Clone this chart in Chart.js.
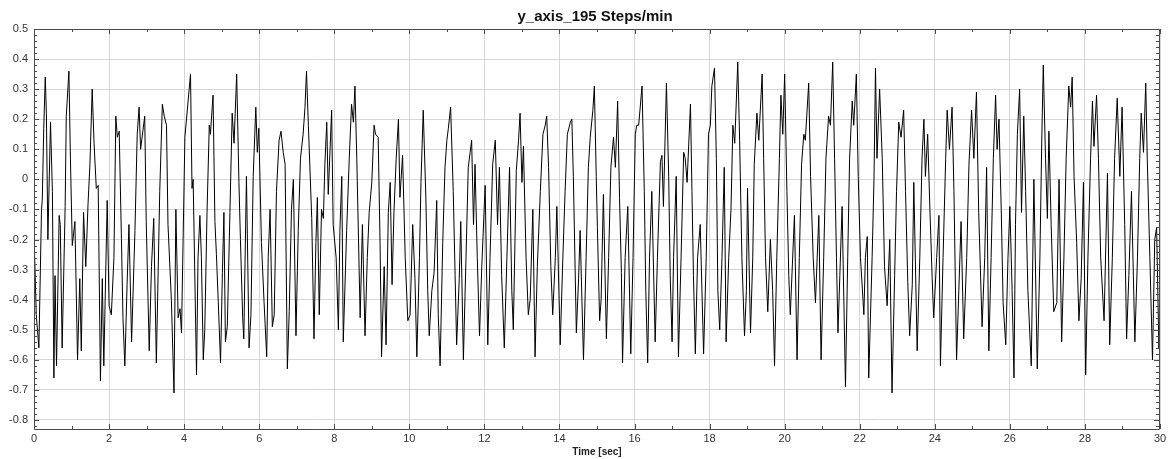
<!DOCTYPE html>
<html>
<head>
<meta charset="utf-8">
<title>y_axis_195 Steps/min</title>
<script src="https://cdn.jsdelivr.net/npm/chart.js@4.4.1/dist/chart.umd.min.js"></script>
<style>
    html, body { margin: 0; padding: 0; background: #fff; }
    #chart { display: block; }
</style>
</head>
<body>
<canvas id="chart" width="1175" height="459"></canvas>
<script>
const chartTitle = "y_axis_195 Steps/min";
const xAxisTitle = "Time [sec]";
const xTicks = [0, 2, 4, 6, 8, 10, 12, 14, 16, 18, 20, 22, 24, 26, 28, 30];
const yTicks = [-0.8, -0.7, -0.6, -0.5, -0.4, -0.3, -0.2, -0.1, 0, 0.1, 0.2, 0.3, 0.4, 0.5];

// one line per ~second
const timeSec = [
    0.00,0.06,0.13,0.20,0.22,0.26,0.30,0.33,0.37,0.44,0.49,0.53,0.56,0.60,0.67,0.70,0.75,0.83,0.86,0.93,0.97,
    1.02,1.09,1.16,1.22,1.26,1.32,1.38,1.44,1.49,1.55,1.60,1.66,1.71,1.77,1.82,1.86,1.95,
    2.00,2.06,2.13,2.18,2.22,2.27,2.33,2.37,2.42,2.48,2.53,2.60,2.69,2.75,2.80,2.84,2.95,2.99,
    3.07,3.13,3.19,3.26,3.35,3.42,3.47,3.53,3.57,3.66,3.73,3.78,3.84,3.89,3.93,
    4.02,4.17,4.21,4.24,4.33,4.37,4.42,4.46,4.51,4.55,4.61,4.67,4.70,4.77,4.82,4.86,4.91,4.97,
    5.02,5.06,5.10,5.15,5.22,5.28,5.33,5.40,5.46,5.50,5.56,5.59,5.66,5.73,5.78,5.84,5.91,5.95,5.99,
    6.06,6.13,6.20,6.24,6.29,6.35,6.40,6.46,6.53,6.58,6.64,6.69,6.75,6.80,6.86,6.91,6.98,
    7.04,7.10,7.17,7.22,7.26,7.31,7.40,7.46,7.51,7.55,7.60,7.66,7.71,7.75,7.80,7.84,7.93,7.97,
    8.05,8.11,8.15,8.20,8.24,8.33,8.40,8.46,8.51,8.55,8.60,8.69,8.75,8.82,8.88,8.93,
    9.00,9.06,9.10,9.17,9.22,9.26,9.33,9.38,9.44,9.49,9.54,9.59,9.65,9.71,9.75,9.82,9.89,9.96,
    10.02,10.09,10.15,10.20,10.27,10.31,10.37,10.44,10.49,10.53,10.60,10.66,10.73,10.77,10.82,10.89,10.95,
    11.00,11.04,11.10,11.17,11.22,11.26,11.33,11.37,11.44,11.51,11.57,11.62,11.66,11.71,11.75,11.81,11.87,11.93,
    12.02,12.09,12.15,12.22,12.29,12.35,12.40,12.46,12.53,12.60,12.67,12.73,12.77,12.85,12.91,12.95,
    13.00,13.04,13.11,13.17,13.22,13.29,13.35,13.41,13.49,13.56,13.62,13.66,13.71,13.77,13.82,13.89,13.93,
    14.02,14.09,14.15,14.21,14.29,14.33,14.37,14.45,14.51,14.55,14.64,14.71,14.77,14.82,14.89,14.93,14.98,
    15.01,15.07,15.11,15.17,15.25,15.31,15.37,15.44,15.49,15.55,15.60,15.65,15.68,15.75,15.82,15.90,15.96,
    16.02,16.06,16.11,16.20,16.26,16.30,16.35,16.40,16.46,16.55,16.61,16.69,16.73,16.77,16.85,16.91,16.95,
    17.00,17.04,17.11,17.17,17.24,17.31,17.35,17.40,17.49,17.53,17.57,17.62,17.68,17.75,17.84,17.91,17.97,
    18.02,18.06,18.13,18.18,18.22,18.27,18.33,18.39,18.44,18.51,18.57,18.62,18.67,18.75,18.80,18.86,18.93,18.98,
    19.01,19.09,19.15,19.19,19.26,19.31,19.40,19.44,19.49,19.55,19.62,19.68,19.73,19.79,19.86,19.90,19.95,
    20.00,20.06,20.11,20.15,20.26,20.33,20.39,20.45,20.51,20.55,20.64,20.69,20.76,20.82,20.91,20.97,
    21.04,21.10,21.17,21.22,21.28,21.33,21.38,21.42,21.47,21.53,21.62,21.68,21.73,21.80,21.84,21.91,21.96,
    22.02,22.11,22.15,22.20,22.24,22.33,22.38,22.42,22.46,22.53,22.60,22.66,22.73,22.80,22.86,22.93,22.98,
    23.04,23.10,23.17,23.22,23.28,23.33,23.40,23.44,23.53,23.60,23.66,23.71,23.75,23.81,23.87,23.93,23.97,
    24.05,24.11,24.15,24.22,24.29,24.33,24.39,24.46,24.51,24.58,24.64,24.70,24.77,24.85,24.91,24.98,
    25.04,25.11,25.17,25.26,25.33,25.38,25.44,25.50,25.56,25.62,25.66,25.71,25.77,25.82,25.89,25.95,
    26.00,26.06,26.11,26.15,26.20,26.26,26.31,26.37,26.42,26.48,26.57,26.64,26.73,26.80,26.85,26.89,26.95,
    27.00,27.04,27.10,27.17,27.25,27.31,27.38,27.44,27.50,27.57,27.62,27.66,27.71,27.78,27.84,27.90,27.96,
    28.02,28.08,28.15,28.20,28.24,28.31,28.36,28.42,28.51,28.60,28.66,28.73,28.79,28.86,28.93,28.99,
    29.06,29.11,29.17,29.24,29.33,29.40,29.46,29.50,29.56,29.62,29.66,29.73,29.80,29.86,29.91,29.97,30.00
];
const yAxis = [
    -0.18,-0.45,-0.56,-0.10,-0.07,0.17,0.34,0.22,-0.20,0.19,-0.04,-0.66,-0.32,-0.62,-0.12,-0.15,-0.56,-0.09,0.21,0.36,0.07,
    -0.22,-0.14,-0.60,-0.33,-0.57,-0.11,-0.29,-0.08,0.05,0.30,0.12,-0.03,-0.02,-0.67,-0.33,-0.62,-0.07,
    -0.42,-0.45,-0.26,0.21,0.14,0.16,-0.20,-0.46,-0.62,-0.35,-0.15,-0.54,-0.17,0.15,0.24,0.10,0.21,-0.14,
    -0.57,-0.29,-0.13,-0.61,-0.04,0.25,0.21,0.18,-0.15,-0.40,-0.71,-0.10,-0.46,-0.43,-0.51,
    0.14,0.35,-0.03,0.00,-0.65,-0.26,-0.12,-0.26,-0.60,-0.50,-0.11,0.18,0.15,0.28,-0.14,-0.25,-0.41,-0.61,
    -0.31,-0.11,-0.54,-0.49,-0.11,0.22,0.12,0.35,-0.01,-0.20,-0.46,-0.53,0.01,-0.56,-0.45,0.01,0.24,0.09,0.17,
    -0.21,-0.41,-0.59,-0.26,-0.10,-0.49,-0.45,-0.04,0.13,0.16,0.09,0.05,-0.63,-0.44,-0.10,0.00,-0.52,
    -0.17,0.07,0.15,0.24,0.36,0.18,-0.13,-0.53,-0.21,-0.06,-0.45,-0.10,-0.13,0.05,0.19,-0.05,0.23,-0.15,
    -0.26,-0.50,-0.17,0.01,-0.54,-0.17,0.07,0.25,0.19,0.31,0.07,-0.46,-0.15,-0.52,-0.26,-0.11,
    -0.01,0.18,0.15,0.14,-0.21,-0.59,-0.29,-0.55,-0.11,-0.01,-0.35,-0.11,0.07,0.20,-0.06,0.08,-0.26,-0.47,
    -0.45,-0.15,-0.33,-0.59,-0.26,-0.01,0.23,-0.06,-0.37,-0.52,-0.37,-0.31,-0.07,-0.45,-0.62,-0.21,0.04,
    0.13,0.17,0.24,-0.04,-0.32,-0.55,-0.33,-0.14,-0.60,-0.26,0.04,0.09,0.13,-0.15,0.05,-0.26,-0.52,-0.29,
    -0.02,-0.55,-0.26,0.05,0.13,-0.15,0.04,-0.32,-0.56,-0.26,0.04,-0.37,-0.50,0.03,0.13,0.22,
    -0.01,0.11,-0.26,-0.45,-0.40,-0.10,-0.59,-0.29,-0.04,0.15,0.18,0.21,0.04,-0.29,-0.45,-0.26,-0.09,
    -0.55,-0.26,-0.04,0.15,0.19,0.20,0.01,-0.51,-0.33,-0.17,-0.60,-0.26,0.04,0.14,0.23,0.31,0.01,
    -0.16,-0.47,-0.40,-0.05,-0.53,-0.26,0.04,0.14,0.04,0.26,-0.06,-0.31,-0.61,-0.26,-0.09,-0.58,-0.26,
    0.15,0.18,0.18,0.31,-0.04,-0.37,-0.61,-0.26,-0.04,-0.54,-0.26,0.06,0.08,-0.09,0.32,0.01,-0.32,
    -0.54,-0.26,0.01,-0.59,-0.26,0.09,0.07,-0.01,0.25,-0.04,-0.32,-0.58,-0.26,-0.15,-0.58,-0.26,0.15,
    0.18,0.31,0.37,0.07,-0.37,-0.50,-0.26,0.04,-0.54,-0.26,-0.10,0.18,0.12,0.39,0.13,-0.26,-0.52,-0.37,
    -0.03,-0.51,-0.26,0.05,0.22,0.13,0.35,0.07,-0.26,-0.44,-0.20,-0.37,-0.62,-0.26,0.07,0.28,0.15,
    0.35,-0.04,-0.32,-0.45,-0.12,-0.60,-0.26,0.05,0.15,0.13,0.32,0.01,-0.26,-0.41,-0.12,-0.60,
    -0.26,0.07,0.21,0.18,0.39,0.07,-0.26,-0.51,-0.32,-0.09,-0.69,-0.26,0.07,0.26,0.18,0.35,0.01,
    -0.26,-0.45,-0.26,-0.19,-0.66,-0.26,0.00,0.37,0.07,0.30,0.07,-0.29,-0.42,-0.20,-0.71,-0.32,-0.04,
    0.19,0.14,0.23,-0.04,-0.34,-0.52,-0.35,-0.01,-0.57,-0.26,0.07,0.20,0.01,0.15,-0.10,-0.33,-0.46,
    -0.26,-0.12,-0.62,-0.26,0.07,0.23,0.10,0.24,-0.04,-0.60,-0.37,-0.14,-0.53,-0.26,0.05,0.23,
    0.07,0.29,-0.11,-0.49,-0.26,0.04,-0.57,-0.26,0.07,0.28,0.10,0.20,-0.10,-0.41,-0.55,-0.26,
    -0.09,-0.37,-0.66,-0.15,0.15,0.30,-0.11,0.21,-0.04,-0.37,-0.62,0.00,-0.63,-0.26,0.13,0.38,0.07,
    -0.13,0.16,-0.15,-0.44,-0.41,0.00,-0.54,-0.26,0.07,0.31,0.24,0.34,0.01,-0.21,-0.47,-0.33,-0.01,
    -0.65,-0.26,0.07,0.26,0.11,0.28,0.07,-0.26,-0.47,0.02,-0.55,-0.26,0.07,0.27,0.01,0.24,
    -0.15,-0.53,-0.32,-0.04,-0.54,-0.26,0.07,0.22,0.09,0.32,0.07,-0.26,-0.60,-0.20,-0.16,-0.56,-0.50
];

if (timeSec.length !== yAxis.length) {
    console.error("length mismatch", timeSec.length, yAxis.length);
}

const FONT = "'Liberation Sans', Arial, sans-serif";

// frame, inner tick marks and title (the plot looks like an old Qwt widget)
const framePlugin = {
    id: "frame",
    afterDraw(chart) {
        const ctx = chart.ctx;
        const area = chart.chartArea;
        const xs = chart.scales.x;
        const ys = chart.scales.y;
        ctx.save();
        ctx.strokeStyle = "#4a4a4a";
        ctx.lineWidth = 1;
        ctx.beginPath();
        ctx.rect(Math.round(area.left) + 0.5, Math.round(area.top) + 0.5,
            Math.round(area.right - area.left) - 1, Math.round(area.bottom - area.top));
        ctx.stroke();

        ctx.beginPath();
        for (let s = 0; s <= 30; s++) {
            const px = Math.round(xs.getPixelForValue(s)) + 0.5;
            const len = s % 2 === 0 ? 5 : 3;
            ctx.moveTo(px, area.bottom);
            ctx.lineTo(px, area.bottom - len);
            ctx.moveTo(px, area.top);
            ctx.lineTo(px, area.top + len);
        }
        for (let k = -41; k <= 25; k++) {
            const v = k * 0.02;
            const py = Math.round(ys.getPixelForValue(v)) + 0.5;
            const len = k % 5 === 0 ? 5 : 3;
            ctx.moveTo(area.left, py);
            ctx.lineTo(area.left + len, py);
            ctx.moveTo(area.right - 1, py);
            ctx.lineTo(area.right - 1 - len, py);
        }
        ctx.stroke();

        ctx.fillStyle = "#111";
        ctx.font = "bold 15px " + FONT;
        ctx.textAlign = "center";
        ctx.textBaseline = "alphabetic";
        ctx.fillText(chartTitle, (area.left + area.right) / 2 - 2, 21);
        ctx.restore();
    }
};

new Chart(document.getElementById("chart"), {
    type: "line",
    data: {
        datasets: [{
            data: timeSec.map((t, i) => ({ x: t, y: yAxis[i] })),
            borderColor: "#000",
            borderWidth: 1,
            pointRadius: 0,
            tension: 0,
            fill: false
        }]
    },
    options: {
        responsive: false,
        animation: false,
        devicePixelRatio: 1,
        layout: { padding: { top: 29, right: 15, left: 0, bottom: 0 } },
        plugins: {
            legend: { display: false },
            tooltip: { enabled: false },
            title: { display: false }
        },
        scales: {
            x: {
                type: "linear",
                min: 0,
                max: 30,
                afterBuildTicks: scale => { scale.ticks = xTicks.map(v => ({ value: v })); },
                afterFit: scale => { scale.height = 30; },
                grid: { color: "#d6d6d6", lineWidth: 1, drawTicks: false },
                border: { display: false },
                ticks: {
                    color: "#333",
                    font: { family: FONT, size: 11 },
                    padding: 3,
                    maxRotation: 0,
                    autoSkip: false
                },
                title: {
                    display: true,
                    text: xAxisTitle,
                    color: "#222",
                    font: { family: FONT, size: 10, weight: "bold" },
                    padding: { top: 0, bottom: 1 }
                }
            },
            y: {
                type: "linear",
                min: -0.83,
                max: 0.5,
                afterBuildTicks: scale => { scale.ticks = yTicks.map(v => ({ value: v })); },
                afterFit: scale => { scale.width = 34; },
                grid: { color: "#d6d6d6", lineWidth: 1, drawTicks: false },
                border: { display: false },
                ticks: {
                    color: "#333",
                    font: { family: FONT, size: 11 },
                    padding: 6,
                    callback: v => String(Math.round(v * 10) / 10)
                }
            }
        }
    },
    plugins: [framePlugin]
});
</script>
</body>
</html>
